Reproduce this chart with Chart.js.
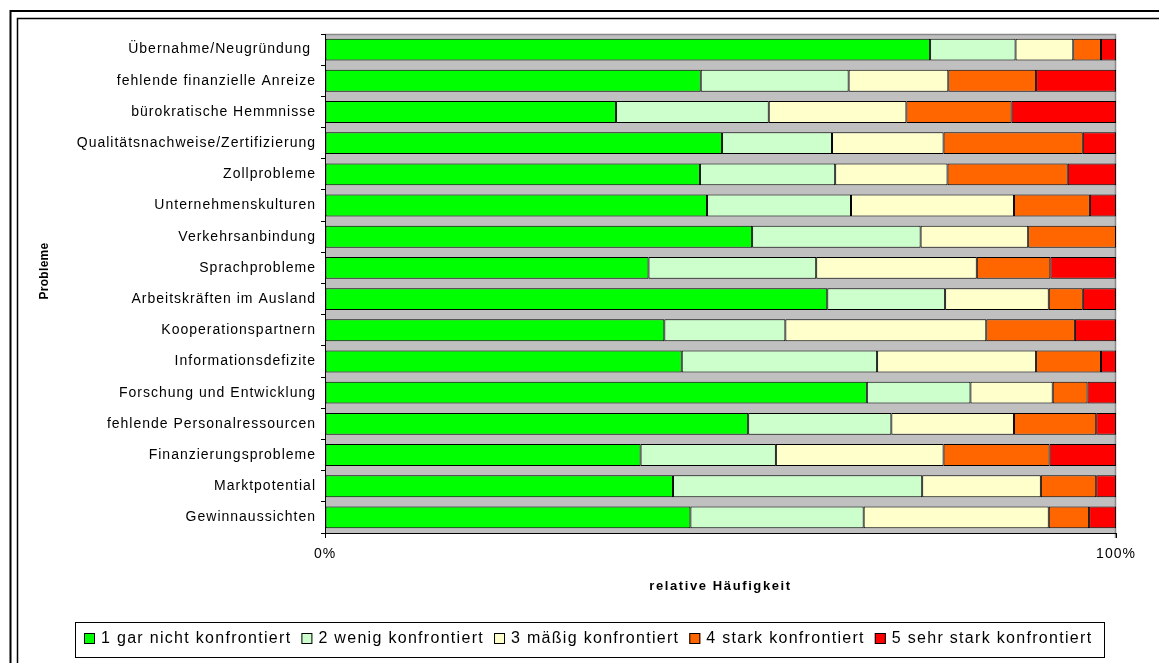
<!DOCTYPE html>
<html lang="de">
<head>
<meta charset="utf-8">
<title>Probleme – relative Häufigkeit</title>
<script src="https://cdn.jsdelivr.net/npm/chart.js@4.4.1/dist/chart.umd.min.js"></script>
<style>
  html, body { margin: 0; padding: 0; background: #fff; }
  canvas { display: block; }
</style>
</head>
<body>
<canvas id="chart" width="1159" height="663"></canvas>
<script>
// Categories, top to bottom
const categories = [
  'Übernahme/Neugründung ',
  'fehlende finanzielle Anreize',
  'bürokratische Hemmnisse',
  'Qualitätsnachweise/Zertifizierung',
  'Zollprobleme',
  'Unternehmenskulturen',
  'Verkehrsanbindung',
  'Sprachprobleme',
  'Arbeitskräften im Ausland',
  'Kooperationspartnern',
  'Informationsdefizite',
  'Forschung und Entwicklung',
  'fehlende Personalressourcen',
  'Finanzierungsprobleme',
  'Marktpotential',
  'Gewinnaussichten'
];

// Shares in percent per level of confrontation
const garNicht   = [76.5, 47.5, 36.8, 50.2, 47.4, 48.3, 54.0, 40.9, 63.5, 42.9, 45.1, 68.5, 53.5, 39.9, 44.0, 46.2];
const wenig      = [10.8, 18.7, 19.3, 13.9, 17.1, 18.2, 21.3, 21.2, 14.9, 15.3, 24.7, 13.1, 18.1, 17.1, 31.5, 21.9];
const maessig    = [ 7.3, 12.6, 17.4, 14.1, 14.2, 20.6, 13.6, 20.3, 13.1, 25.4, 20.1, 10.4, 15.5, 21.2, 15.0, 23.4];
const stark      = [ 3.5, 11.1, 13.3, 17.6, 15.2,  9.6, 11.1,  9.3,  4.3, 11.2,  8.2,  4.4, 10.4, 13.4,  7.0,  5.1];
const sehrStark  = [ 1.9, 10.1, 13.2,  4.2,  6.1,  3.3,  0.0,  8.3,  4.2,  5.2,  1.9,  3.6,  2.5,  8.4,  2.5,  3.4];

const levelNames = [
  '1 gar nicht konfrontiert',
  '2 wenig konfrontiert',
  '3 mäßig konfrontiert',
  '4 stark konfrontiert',
  '5 sehr stark konfrontiert'
];
const xTickValues = [0, 100];

const levelColors = ['#00FF00', '#CCFFCC', '#FFFFCC', '#FF6600', '#FF0000'];
const fontFamily = '"Liberation Sans", Arial, sans-serif';

// Frame, grey plot area, axis titles and the boxed legend
const decorations = {
  id: 'decorations',
  beforeDraw(chart) {
    const { ctx, chartArea: a } = chart;
    ctx.save();
    ctx.strokeStyle = '#000';
    ctx.lineWidth = 2;
    ctx.strokeRect(10.5, 11, 1400, 900);
    ctx.lineWidth = 1.5;
    ctx.strokeRect(17.5, 18.5, 1400, 900);

    ctx.fillStyle = '#C0C0C0';
    ctx.fillRect(a.left, a.top, a.right - a.left, a.bottom - a.top);
    ctx.strokeStyle = '#888';
    ctx.lineWidth = 1.5;
    ctx.beginPath();
    ctx.moveTo(a.left, a.top + 0.5);
    ctx.lineTo(a.right - 0.5, a.top + 0.5);
    ctx.lineTo(a.right - 0.5, a.bottom + 5);
    ctx.stroke();
    ctx.restore();
    ctx.letterSpacing = '1px';
  },
  afterDraw(chart) {
    const { ctx, chartArea: a } = chart;
    ctx.save();
    ctx.fillStyle = '#000';

    // axis titles
    ctx.font = 'bold 13px ' + fontFamily;
    ctx.letterSpacing = '1.6px';
    ctx.textAlign = 'center';
    ctx.textBaseline = 'middle';
    ctx.fillText('relative Häufigkeit', (a.left + a.right) / 2, 586);

    ctx.save();
    ctx.translate(45, 271);
    ctx.rotate(-Math.PI / 2);
    ctx.font = 'bold 12px ' + fontFamily;
    ctx.letterSpacing = '0.3px';
    ctx.fillText('Probleme', 0, 0);
    ctx.restore();

    // legend
    ctx.strokeStyle = '#000';
    ctx.lineWidth = 1;
    ctx.strokeRect(75.5, 622.5, 1029, 35);
    ctx.font = '16px ' + fontFamily;
    ctx.letterSpacing = '1.3px';
    ctx.textAlign = 'left';
    ctx.textBaseline = 'alphabetic';
    let x = 84;
    levelNames.forEach((name, i) => {
      ctx.fillStyle = levelColors[i];
      ctx.fillRect(x, 633, 11, 11);
      ctx.strokeRect(x + 0.5, 633.5, 10, 10);
      x += 17;
      ctx.fillStyle = '#000';
      ctx.fillText(name, x, 643);
      x += ctx.measureText(name).width + 10;
    });
    ctx.restore();
  }
};

const series = [garNicht, wenig, maessig, stark, sehrStark];

new Chart(document.getElementById('chart'), {
  type: 'bar',
  data: {
    labels: categories,
    datasets: series.map((values, i) => ({
      label: levelNames[i],
      data: values,
      backgroundColor: levelColors[i],
      borderColor: '#000',
      borderWidth: 1,
      borderSkipped: false,
      barPercentage: 0.7,
      categoryPercentage: 1
    }))
  },
  options: {
    indexAxis: 'y',
    responsive: false,
    animation: false,
    events: [],
    layout: { padding: { left: 30, right: 43, top: 34, bottom: 60 } },
    plugins: {
      legend: { display: false },
      tooltip: { enabled: false }
    },
    scales: {
      x: {
        stacked: true,
        min: 0,
        max: 100,
        afterFit: s => { s.height = 70; },
        afterBuildTicks: s => { s.ticks = xTickValues.map(v => ({ value: v })); },
        ticks: {
          callback: v => v + '%',
          color: '#000',
          font: { size: 14, family: fontFamily },
          padding: 8,
          maxRotation: 0
        },
        grid: { drawOnChartArea: false, tickLength: 5, color: '#000' },
        border: { color: '#000', width: 1 }
      },
      y: {
        stacked: true,
        afterFit: s => { s.width = 295; },
        ticks: {
          color: '#000',
          font: { size: 14, family: fontFamily },
          padding: 5,
          autoSkip: false
        },
        grid: { drawOnChartArea: false, tickLength: 4, color: '#000', offset: true },
        border: { color: '#000', width: 1 }
      }
    }
  },
  plugins: [decorations]
});
</script>
</body>
</html>
